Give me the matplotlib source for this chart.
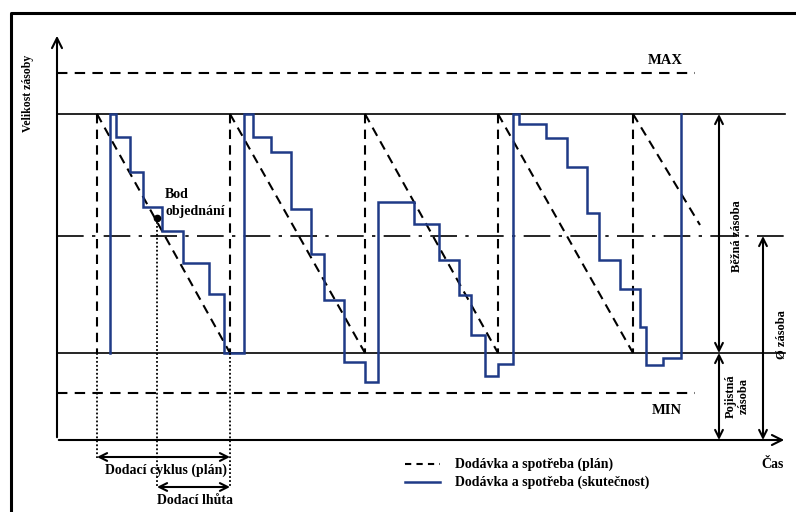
import matplotlib.pyplot as plt

# hladiny zasoby (souradnice obrazku)
y_max, y_top, y_avg, y_safe, y_min, y_axis = 73, 114, 236, 353, 393, 440

# planovane cykly - zacatky dodavek
plan_starts = [97, 230, 365, 498, 633]
plan_last_end = (700, 225)

# skutecny prubeh zasoby (lomena cara)
actual_x = [110, 110, 116, 116, 130, 130, 143, 143, 162, 162, 183, 183, 209, 209, 224, 224,
            244, 244, 253, 253, 271, 271, 291, 291, 311, 311, 324, 324, 344, 344, 365, 365,
            378, 378, 414, 414, 439, 439, 459, 459, 471, 471, 485, 485, 498, 498,
            513, 513, 519, 519, 546, 546, 567, 567, 587, 587, 599, 599, 620, 620, 640, 640,
            646, 646, 663, 663, 681, 681]
actual_y = [353, 114, 114, 137, 137, 172, 172, 207, 207, 231, 231, 263, 263, 294, 294, 353,
            353, 114, 114, 137, 137, 152, 152, 209, 209, 254, 254, 300, 300, 362, 362, 382,
            382, 202, 202, 224, 224, 260, 260, 295, 295, 335, 335, 376, 376, 364,
            364, 114, 114, 124, 124, 138, 138, 167, 167, 213, 213, 260, 260, 289, 289, 327,
            327, 365, 365, 358, 358, 114]

order_point = (157, 218)

blue = '#1f3a87'
font = dict(family='Liberation Serif', weight='bold', color='black')

fig = plt.figure(figsize=(7.96, 5.12), dpi=100)
ax = fig.add_axes([0, 0, 1, 1])
ax.set_xlim(0, 796)
ax.set_ylim(512, 0)
ax.axis('off')

# ramecek
ax.plot([11, 11, 796], [512, 13, 13], color='black', lw=2.2)

# osy
ax.annotate('', xy=(57, 33), xytext=(57, y_axis),
            arrowprops=dict(arrowstyle='->', lw=1.5, color='black', mutation_scale=18))
ax.annotate('', xy=(787, y_axis), xytext=(56, y_axis),
            arrowprops=dict(arrowstyle='->', lw=1.5, color='black', mutation_scale=18))

# vodorovne hladiny
ax.plot([57, 695], [y_max, y_max], color='black', lw=1.5, ls=(0, (5, 3.5)))
ax.plot([57, 695], [y_min, y_min], color='black', lw=1.5, ls=(0, (5, 3.5)))
ax.plot([57, 785], [y_top, y_top], color='black', lw=1.2)
ax.plot([57, 785], [y_safe, y_safe], color='black', lw=1.2)
ax.plot([57, 785], [y_avg, y_avg], color='black', lw=1.2, ls=(0, (16, 5, 2, 5)))

# plan - pila
dash = (0, (4.5, 3))
for i, xs in enumerate(plan_starts):
    ax.plot([xs, xs], [y_top, y_safe], color='black', lw=1.5, ls=dash)
    if i + 1 < len(plan_starts):
        ax.plot([xs, plan_starts[i + 1]], [y_top, y_safe], color='black', lw=1.5, ls=dash)
    else:
        ax.plot([xs, plan_last_end[0]], [y_top, plan_last_end[1]], color='black', lw=1.5, ls=dash)

# skutecnost
ax.plot(actual_x, actual_y, color=blue, lw=1.8, solid_joinstyle='miter')

# bod objednani
ax.plot(*order_point, 'o', color='black', ms=4.5)
ax.text(165, 195, 'Bod', fontsize=10, ha='left', va='center', **font)
ax.text(165, 211, 'objednání', fontsize=10, ha='left', va='center', **font)

# teckovane pomocne cary
dot = (0, (1, 1.2))
ax.plot([97, 97], [y_safe, 458], color='black', lw=1.3, ls=dot)
ax.plot([order_point[0]] * 2, [order_point[1], 487], color='black', lw=1.3, ls=dot)
ax.plot([230, 230], [y_safe, 487], color='black', lw=1.3, ls=dot)

# dodaci cyklus a lhuta
arr = dict(arrowstyle='<->', lw=1.5, color='black', mutation_scale=14, shrinkA=0, shrinkB=0)
ax.annotate('', xy=(97, 457), xytext=(230, 457), arrowprops=arr)
ax.text(166, 470, 'Dodací cyklus (plán)', fontsize=10, ha='center', va='center', **font)
ax.annotate('', xy=(157, 487), xytext=(230, 487), arrowprops=arr)
ax.text(195, 500, 'Dodací lhůta', fontsize=10, ha='center', va='center', **font)

# pravy popis
ax.annotate('', xy=(719, y_top), xytext=(719, y_safe), arrowprops=arr)
ax.annotate('', xy=(719, y_safe), xytext=(719, y_axis), arrowprops=arr)
ax.annotate('', xy=(763, y_avg), xytext=(763, y_axis), arrowprops=arr)
ax.text(737, 236, 'Běžná zásoba', fontsize=9, rotation=90, ha='center', va='center', **font)
ax.text(737, 396, 'Pojistná\nzásoba', fontsize=9, rotation=90, ha='center', va='center',
        linespacing=1.1, **font)
ax.text(782, 335, 'Ø zásoba', fontsize=9, rotation=90, ha='center', va='center', **font)

ax.text(665, 61, 'MAX', fontsize=10.5, ha='center', va='center', **font)
ax.text(667, 411, 'MIN', fontsize=10.5, ha='center', va='center', **font)
ax.text(28, 93, 'Velikost zásoby', fontsize=8.5, rotation=90, ha='center', va='center', **font)
ax.text(773, 464, 'Čas', fontsize=10, ha='center', va='center', **font)

# legenda
ax.plot([405, 440], [464, 464], color='black', lw=1.5, ls=(0, (3, 2.5)))
ax.text(455, 464, 'Dodávka a spotřeba (plán)', fontsize=10, ha='left', va='center', **font)
ax.plot([405, 440], [482, 482], color=blue, lw=1.8)
ax.text(455, 482, 'Dodávka a spotřeba (skutečnost)', fontsize=10, ha='left', va='center', **font)

fig.savefig('out.png', dpi=100)
